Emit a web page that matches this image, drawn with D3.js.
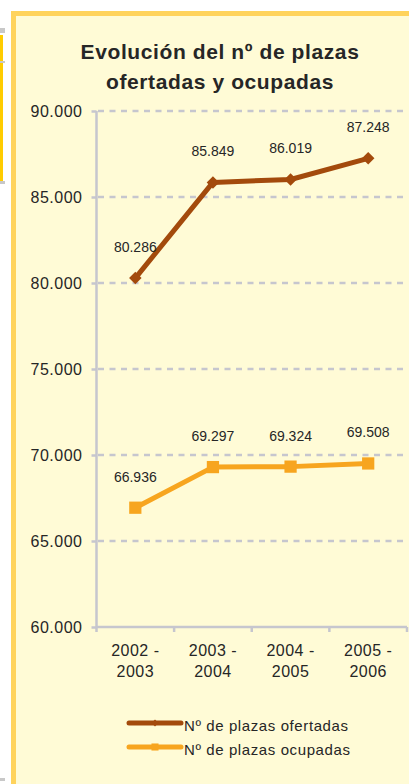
<!DOCTYPE html>
<html>
<head>
<meta charset="utf-8">
<script src="https://cdn.jsdelivr.net/npm/d3@7"></script>
<style>
  html, body { margin: 0; padding: 0; background: #ffffff; }
  svg { display: block; }
  text { font-family: "Liberation Sans", Arial, sans-serif; fill: #262626; }
</style>
</head>
<body>
<svg id="chart" width="409" height="784"></svg>
<script>
// ---- data ----
const categories = [["2002 -", "2003"], ["2003 -", "2004"], ["2004 -", "2005"], ["2005 -", "2006"]];
const ofertadas = [80286, 85849, 86019, 87248];
const ocupadas = [66936, 69297, 69324, 69508];
const yTicks = [60000, 65000, 70000, 75000, 80000, 85000, 90000];
const seriesNames = ["Nº de plazas ofertadas", "Nº de plazas ocupadas"];
const titleLines = ["Evolución del nº de plazas", "ofertadas y ocupadas"];

const W = 409, H = 784;
const svg = d3.select("#chart");
const fmt = v => d3.format(",")(v).replace(/,/g, ".");

// neighbouring fragments on the left edge
svg.append("rect").attr("x", 0).attr("y", 35).attr("width", 3).attr("height", 146).attr("fill", "#FFCC00");
svg.append("rect").attr("x", 0).attr("y", 28).attr("width", 5).attr("height", 5).attr("fill", "#C8C8C8");
svg.append("rect").attr("x", 0).attr("y", 61).attr("width", 5).attr("height", 2).attr("fill", "#C8C8C8");
svg.append("rect").attr("x", 0).attr("y", 181).attr("width", 5).attr("height", 3).attr("fill", "#C8C8C8");
svg.append("rect").attr("x", 0).attr("y", 778).attr("width", 5).attr("height", 3).attr("fill", "#C8C8C8");

// panel
svg.append("rect")
  .attr("x", 13.5).attr("y", 13.5)
  .attr("width", W + 20).attr("height", H + 20)
  .attr("fill", "#FFFBD6").attr("stroke", "#FFD35C").attr("stroke-width", 5);

// title
svg.append("g").selectAll("text").data(titleLines).join("text")
  .attr("x", 220).attr("y", (d, i) => 59 + i * 30)
  .attr("text-anchor", "middle")
  .style("font-size", "21px").style("font-weight", "bold").style("letter-spacing", "0.6px")
  .text(d => d);

// scales
const x = d3.scaleBand().domain(d3.range(categories.length)).range([96.5, 407]).padding(0);
const y = d3.scaleLinear().domain([60000, 90000]).range([627, 111]);
const cx = i => x(i) + x.bandwidth() / 2;

const gridColor = "#C6C6CE";

// gridlines
svg.append("g").selectAll("line").data(yTicks.filter(t => t > 60000)).join("line")
  .attr("x1", 98).attr("x2", 407)
  .attr("y1", d => y(d)).attr("y2", d => y(d))
  .attr("stroke", gridColor).attr("stroke-width", 2.5)
  .attr("stroke-dasharray", "6,5.5");

// y axis
const yAxis = svg.append("g").attr("transform", "translate(96.5,0)")
  .call(d3.axisLeft(y).tickValues(yTicks).tickSize(5).tickPadding(9).tickFormat(fmt));
yAxis.select(".domain").attr("stroke", gridColor).attr("stroke-width", 2.5).attr("d", `M0,${y(90000)}V${y(60000)}`);
yAxis.selectAll(".tick line").attr("stroke", gridColor).attr("stroke-width", 2.5);
yAxis.selectAll(".tick text")
  .style("font-family", '"Liberation Sans", Arial, sans-serif')
  .style("font-size", "16px").style("letter-spacing", "0.5px").attr("fill", "#262626").attr("dy", "0.35em");

// x axis
const xAxis = svg.append("g").attr("transform", "translate(0,627)");
xAxis.append("line").attr("x1", 96.5).attr("x2", 407).attr("y1", 0).attr("y2", 0)
  .attr("stroke", gridColor).attr("stroke-width", 2.5);
xAxis.selectAll("line.tk").data(d3.range(categories.length + 1)).join("line").attr("class", "tk")
  .attr("x1", i => i < categories.length ? x(i) : x(categories.length - 1) + x.bandwidth())
  .attr("x2", i => i < categories.length ? x(i) : x(categories.length - 1) + x.bandwidth())
  .attr("y1", 0).attr("y2", 5)
  .attr("stroke", gridColor).attr("stroke-width", 2.5);
const xl = xAxis.selectAll("text").data(categories).join("text")
  .attr("text-anchor", "middle")
  .style("font-size", "16px").style("letter-spacing", "0.5px");
xl.each(function(d, i) {
  d3.select(this).selectAll("tspan").data(d).join("tspan")
    .attr("x", cx(i)).attr("y", (t, j) => 29 + j * 21).text(t => t);
});

// series
const series = [
  { name: seriesNames[0], values: ofertadas, color: "#A34A0C", marker: "diamond" },
  { name: seriesNames[1], values: ocupadas, color: "#F7A51F", marker: "square" }
];
const line = d3.line().x((d, i) => cx(i)).y(d => y(d));

series.forEach(s => {
  svg.append("path").datum(s.values)
    .attr("d", line).attr("fill", "none")
    .attr("stroke", s.color).attr("stroke-width", 5).attr("stroke-linejoin", "round");
  const sym = s.marker === "diamond"
    ? d3.symbol().type(d3.symbolDiamond2).size(100)
    : d3.symbol().type(d3.symbolSquare).size(150);
  svg.append("g").selectAll("path").data(s.values).join("path")
    .attr("transform", (d, i) => `translate(${cx(i)},${y(d)})`)
    .attr("d", sym).attr("fill", s.color);
  svg.append("g").selectAll("text").data(s.values).join("text")
    .attr("x", (d, i) => cx(i)).attr("y", d => y(d) - 26)
    .attr("text-anchor", "middle")
    .style("font-size", "14px")
    .text(d => fmt(d));
});

// legend
const lg = svg.append("g");
series.forEach((s, i) => {
  const ly = 723 + i * 24;
  lg.append("line").attr("x1", 129).attr("x2", 181).attr("y1", ly).attr("y2", ly)
    .attr("stroke", s.color).attr("stroke-width", 5).attr("stroke-linecap", "round");
  const sym = s.marker === "diamond"
    ? d3.symbol().type(d3.symbolDiamond2).size(30)
    : d3.symbol().type(d3.symbolSquare).size(50);
  lg.append("path").attr("transform", `translate(155,${ly})`).attr("d", sym).attr("fill", s.color);
  lg.append("text").attr("x", 184).attr("y", ly + 8)
    .style("font-size", "15px").style("letter-spacing", "0.6px")
    .text(s.name);
});
</script>
</body>
</html>
